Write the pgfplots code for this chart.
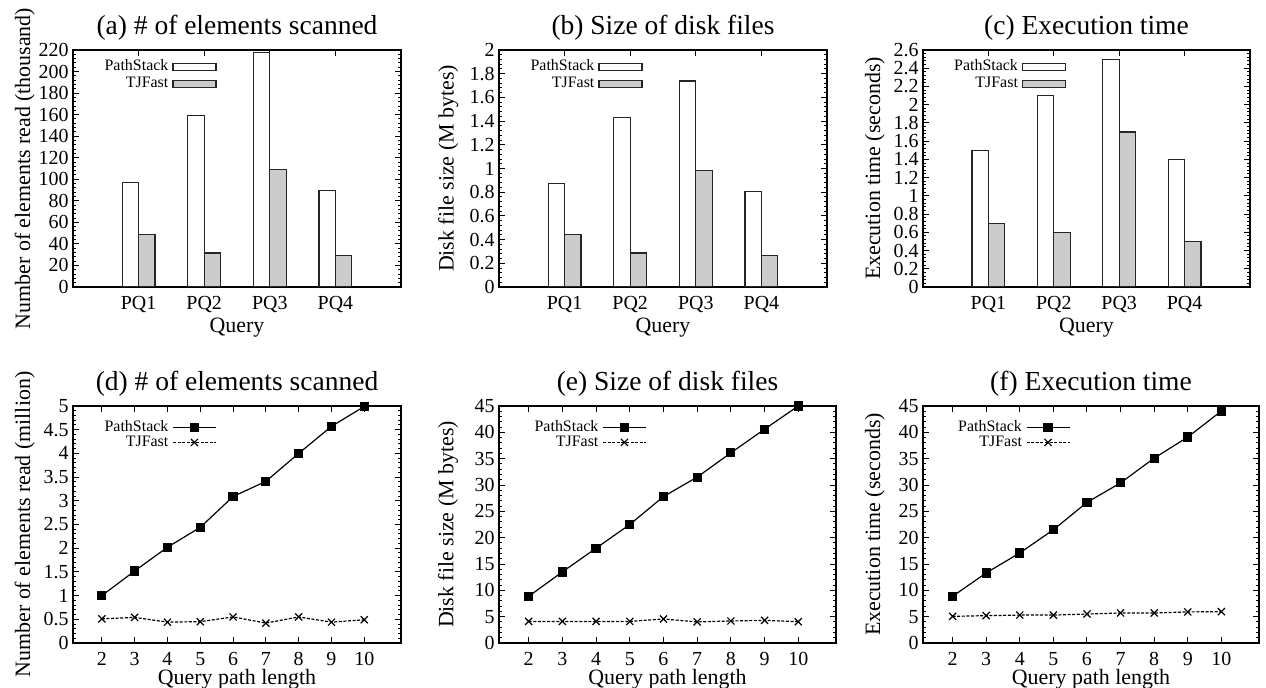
\documentclass[border=0pt]{standalone}
\usepackage{fontspec}
\setmainfont{Liberation Serif}
\usepackage{pgfplots}
\pgfplotsset{compat=1.18}

\pgfplotsset{
    every axis/.append style={
        scale only axis,
        height=118.5bp,
        axis line style={line width=0.8bp},
        tick style={black, line width=0.5bp},
        major tick length=3bp,
        minor tick length=1.5bp,
        minor y tick num=4,
        tick label style={font=\fontsize{10}{12}\selectfont, inner sep=1bp},
        xticklabel style={yshift=-3.3bp},
        yticklabel style={xshift=-1bp},
        label style={font=\fontsize{11}{13}\selectfont, inner sep=1bp},
        title style={font=\fontsize{13.8}{16}\selectfont,
                     at={(axis description cs:0.5,1)}, anchor=center, yshift=5bp},
        ylabel style={at={(axis description cs:-0.147,0.5)}, anchor=center},
        /pgf/number format/assume math mode=true,
        legend style={draw=none, fill=none, font=\fontsize{8}{9}\selectfont,
                      anchor=north east, inner sep=1bp},
        legend plot pos=right,
        legend cell align=right,
    },
    % bar panels
    baraxis/.style={
        xmin=0, xmax=5, xtick={1,2,3,4},
        xticklabels={PQ1,PQ2,PQ3,PQ4},
        ymin=0, xlabel={Query},
        xlabel style={at={(axis description cs:0.5,0)}, anchor=base, yshift=-23bp},
        legend style={at={(axis description cs:0.445,0.985)}, row sep=-2.5bp},
        legend image code/.code={\draw[##1] (0bp,-1.75bp) rectangle (21.5bp,1.75bp);},
    },
    psbar/.style={ybar, bar width=0.25, bar shift=-0.125, fill=white, draw=black!85, line width=0.6bp},
    tjbar/.style={ybar, bar width=0.25, bar shift=0.125, fill=black!20, draw=black!85, line width=0.6bp},
    % line panels
    lineaxis/.style={
        xmin=1.12, xmax=11.12, xtick={2,...,10},
        ymin=0, xlabel={Query path length},
        xlabel style={at={(axis description cs:0.5,0)}, anchor=base, yshift=-20.5bp},
        legend style={at={(axis description cs:0.445,0.965)}, row sep=-3.5bp},
        legend image code/.code={\draw[mark repeat=2, mark phase=2, ##1]
            plot coordinates {(0bp,0bp) (10.75bp,0bp) (21.5bp,0bp)};},
    },
    psline/.style={black, line width=0.6bp, mark=square*, mark size=2bp},
    tjline/.style={black, line width=0.6bp, dash pattern=on 1.5bp off 0.8bp,
                   mark=x, mark size=2.5bp, mark options={solid}},
}

\begin{document}
\begin{tikzpicture}
\useasboundingbox (0,0) rectangle (633bp,344bp);

% (a)
\begin{axis}[baraxis, at={(36.5bp,200.5bp)}, anchor=south west, width=164bp,
    ymax=220, ytick={0,20,...,220},
    title={(a) \# of elements scanned},
    ylabel={Number of elements read (thousand)}]
\addplot[psbar] coordinates {(1,97.3) (2,159.1) (3,217.9) (4,89.6)};
\addlegendentry{PathStack}
\addplot[tjbar] coordinates {(1,48.5) (2,31.5) (3,108.8) (4,29.4)};
\addlegendentry{TJFast}
\end{axis}

% (b)
\begin{axis}[baraxis, at={(249.5bp,200.5bp)}, anchor=south west, width=164bp,
    ymax=2, ytick={0,0.2,...,2.01},
    ylabel style={at={(axis description cs:-0.155,0.5)}},
    title={(b) Size of disk files},
    ylabel={Disk file size (M bytes)}]
\addplot[psbar] coordinates {(1,0.876) (2,1.433) (3,1.739) (4,0.806)};
\addlegendentry{PathStack}
\addplot[tjbar] coordinates {(1,0.441) (2,0.287) (3,0.986) (4,0.267)};
\addlegendentry{TJFast}
\end{axis}

% (c)
\begin{axis}[baraxis, at={(461.5bp,200.5bp)}, anchor=south west, width=163.5bp,
    ymax=2.6, ytick={0,0.2,...,2.61},
    title={(c) Execution time},
    ylabel={Execution time (seconds)}]
\addplot[psbar] coordinates {(1,1.5) (2,2.1) (3,2.5) (4,1.4)};
\addlegendentry{PathStack}
\addplot[tjbar] coordinates {(1,0.7) (2,0.6) (3,1.7) (4,0.5)};
\addlegendentry{TJFast}
\end{axis}

% (d)
\begin{axis}[lineaxis, at={(36.5bp,22.5bp)}, anchor=south west, width=164bp,
    ymax=5, ytick={0,0.5,...,5},
    title={(d) \# of elements scanned},
    ylabel={Number of elements read (million)}]
\addplot[psline] coordinates {(2,1.0) (3,1.52) (4,2.02) (5,2.44) (6,3.09) (7,3.41) (8,4.0) (9,4.57) (10,4.99)};
\addlegendentry{PathStack}
\addplot[tjline] coordinates {(2,0.51) (3,0.54) (4,0.44) (5,0.45) (6,0.55) (7,0.42) (8,0.55) (9,0.44) (10,0.49)};
\addlegendentry{TJFast}
\end{axis}

% (e)
\begin{axis}[lineaxis, at={(249.5bp,22.5bp)}, anchor=south west, width=168.5bp,
    ymax=45, ytick={0,5,...,45},
    ylabel style={at={(axis description cs:-0.151,0.5)}},
    title={(e) Size of disk files},
    ylabel={Disk file size (M bytes)}]
\addplot[psline] coordinates {(2,8.86) (3,13.5) (4,18.0) (5,22.5) (6,27.8) (7,31.5) (8,36.1) (9,40.6) (10,45.0)};
\addlegendentry{PathStack}
\addplot[tjline] coordinates {(2,4.1) (3,4.1) (4,4.1) (5,4.1) (6,4.56) (7,4.0) (8,4.18) (9,4.3) (10,4.05)};
\addlegendentry{TJFast}
\end{axis}

% (f)
\begin{axis}[lineaxis, at={(461.5bp,22.5bp)}, anchor=south west, width=168bp,
    ymax=45, ytick={0,5,...,45},
    ylabel style={at={(axis description cs:-0.143,0.5)}},
    title={(f) Execution time},
    ylabel={Execution time (seconds)}]
\addplot[psline] coordinates {(2,8.86) (3,13.3) (4,17.1) (5,21.5) (6,26.7) (7,30.4) (8,35.1) (9,39.1) (10,44.05)};
\addlegendentry{PathStack}
\addplot[tjline] coordinates {(2,5.06) (3,5.19) (4,5.3) (5,5.3) (6,5.5) (7,5.7) (8,5.7) (9,5.9) (10,5.95)};
\addlegendentry{TJFast}
\end{axis}
\end{tikzpicture}
\end{document}
